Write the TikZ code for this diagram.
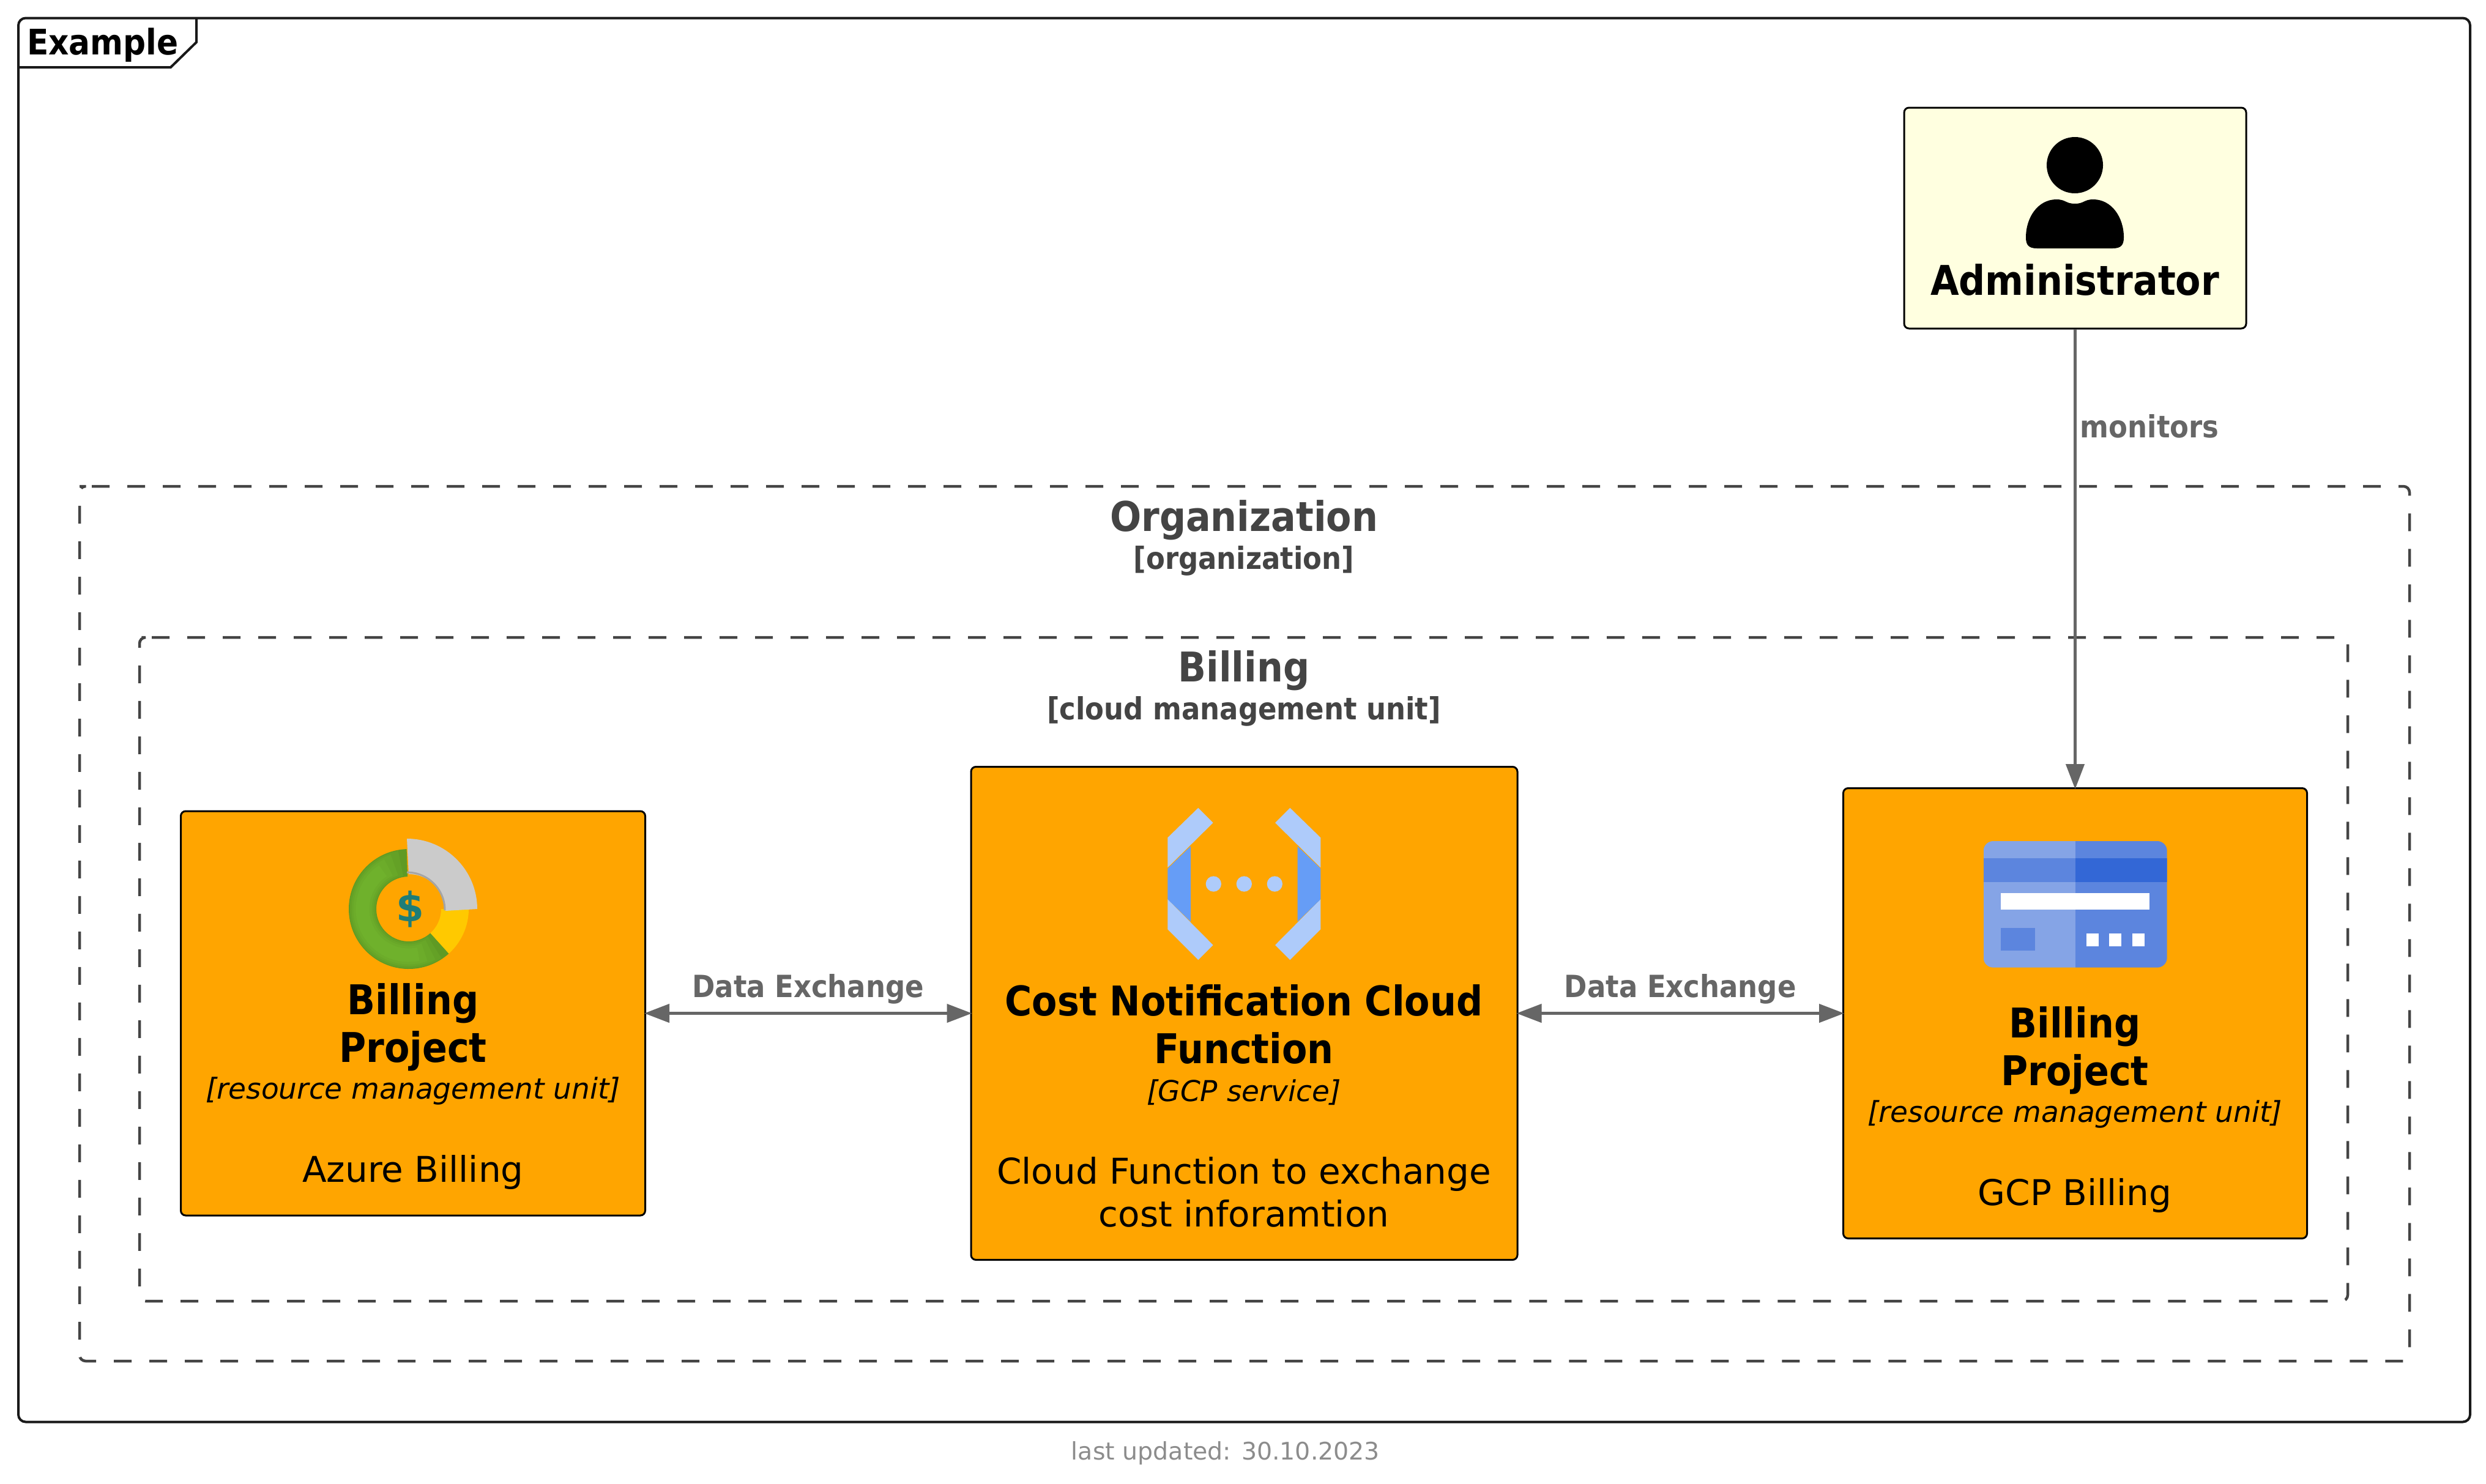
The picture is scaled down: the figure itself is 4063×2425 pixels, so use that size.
\documentclass[tikz,border=0pt]{standalone}
\usepackage{fontspec}
\setmainfont{DejaVu Sans}
\newfontfamily\condfont{DejaVu Sans Condensed}
\usetikzlibrary{arrows.meta}
\definecolor{sysfill}{HTML}{FFA500}
\definecolor{personfill}{HTML}{FFFFE0}
\definecolor{relgray}{HTML}{666666}
\definecolor{boundgray}{HTML}{444444}
\definecolor{lightblue}{HTML}{AECBFA}
\definecolor{midblue}{HTML}{669DF6}
\definecolor{cardlight}{HTML}{85A4E6}
\definecolor{cardmid}{HTML}{5C85DE}
\definecolor{carddark}{HTML}{3367D6}
\definecolor{ringdark}{HTML}{5F9A24}
\definecolor{ringlight}{HTML}{6FB12C}
\definecolor{ringyellow}{HTML}{FFC900}
\definecolor{wedgegray}{HTML}{CBCBCB}
\definecolor{wedgeedge}{HTML}{A5A5A5}
\definecolor{dollarteal}{HTML}{1E7D78}
\newcommand{\fsize}[1]{\fontsize{#1}{#1}\selectfont}
\begin{document}
\begin{tikzpicture}[
    x=1pt, y=-1pt,
       box/.style = {draw=black, line width=3pt, rounded corners=8pt, inner sep=0pt},
    sysbox/.style = {box, fill=sysfill},
  boundary/.style = {draw=boundgray, line width=4.5pt, dash pattern=on 29pt off 29pt, rounded corners=10pt},
   sysname/.style = {anchor=base, font=\condfont\bfseries\fsize{67}, inner sep=0pt},
   systech/.style = {anchor=base, font=\itshape\fsize{47}, inner sep=0pt},
   sysdesc/.style = {anchor=base, font=\fsize{58}, inner sep=0pt},
    bdname/.style = {anchor=base, text=boundgray, font=\condfont\bfseries\fsize{67}, inner sep=0pt},
    bdtech/.style = {anchor=base, text=boundgray, font=\condfont\bfseries\fsize{50}, inner sep=0pt},
    rellab/.style = {text=relgray, font=\condfont\bfseries\fsize{50}, inner sep=0pt},
       rel/.style = {draw=relgray, line width=4.5pt, shorten >=-3pt, -{Triangle[length=41pt,width=30pt]}},
    relbid/.style = {rel, shorten <=-3pt, {Triangle[length=41pt,width=30pt]}-{Triangle[length=41pt,width=30pt]}}
                        ]
\useasboundingbox (0,0) rectangle (4063,2425);
% frame
\node[draw=black!90, line width=4pt, rounded corners=12pt, minimum width=4007pt, minimum height=2295pt, inner sep=0pt] (frame) at (2033.5,1177) {};
\draw[draw=black!90, line width=4pt] (30,110) -- (279,110) -- (321,69) -- (321,30);
\node[anchor=base west, font=\condfont\bfseries\fsize{57.5}, inner sep=0pt] (example) at (44,89) {Example};
\node[anchor=base, text=black!45, font=\fsize{39.5}, inner sep=0pt] (updated) at (2003,2386) {last updated: 30.10.2023};
% boundaries
\draw[boundary] (140,795) -- (3938,795) -- (3938,2225) -- (130,2225) -- (130,795) -- cycle;
\node[bdname] (orgname) at (2033,868) {Organization};
\node[bdtech] (orgtech) at (2033,930) {[organization]};
\draw[boundary] (238,1042) -- (3837,1042) -- (3837,2127) -- (228,2127) -- (228,1042) -- cycle;
\node[bdname] (billname) at (2033,1114) {Billing};
\node[bdtech] (billtech) at (2033,1176) {[cloud management unit]};
% boxes
\node[box, fill=personfill, minimum width=559pt, minimum height=361pt] (admin) at (3391.5,356.5) {};
\node[sysbox, minimum width=759pt, minimum height=661pt] (azure) at (675,1656.5) {};
\node[sysbox, minimum width=893pt, minimum height=806pt] (cost) at (2033.5,1656.5) {};
\node[sysbox, minimum width=758pt, minimum height=736pt] (gcp) at (3391.5,1656.5) {};
% box texts
\node[sysname] (adminname) at (3391,482) {Administrator};
\node[sysname] (azurename1) at (675,1658) {Billing};
\node[sysname] (azurename2) at (675,1736) {Project};
\node[systech] (azuretech) at (675,1796) {[resource management unit]};
\node[sysdesc] (azuredesc) at (675,1932) {Azure Billing};
\node[sysname] (costname1) at (2033,1660) {Cost Notification Cloud};
\node[sysname] (costname2) at (2033,1738) {Function};
\node[systech] (costtech) at (2033,1800) {[GCP service]};
\node[sysdesc] (costdesc1) at (2033,1935) {Cloud Function to exchange};
\node[sysdesc] (costdesc2) at (2033,2005) {cost inforamtion};
\node[sysname] (gcpname1) at (3391,1696) {Billing};
\node[sysname] (gcpname2) at (3391,1774) {Project};
\node[systech] (gcptech) at (3391,1834) {[resource management unit]};
\node[sysdesc] (gcpdesc) at (3391,1970) {GCP Billing};
% connectors
\draw[relbid] (azure.east) -- node[rellab, midway, above=13pt] (lab1) {Data Exchange} (cost.west);
\draw[relbid] (cost.east) -- node[rellab, midway, above=13pt] (lab2) {Data Exchange} (gcp.west);
\draw[rel] (admin.south) -- node[rellab, pos=0.212, right=6pt] (lab3) {monitors} (gcp.north);
% person icon
\begin{scope}[shift={(3391,270)}]
  \fill[black] (0,0) circle [radius=46pt];
  \path[fill=black] (-80,118) .. controls (-80,85) and (-60,56) .. (-30,56)
     .. controls (-15,56) and (-15,63) .. (0,63) .. controls (15,63) and (15,56) .. (30,56)
     .. controls (60,56) and (80,85) .. (80,118) .. controls (80,130) and (76,136) .. (62,136)
     -- (-62,136) .. controls (-76,136) and (-80,130) .. (-80,118) -- cycle;
\end{scope}
% billing icon
\begin{scope}[shift={(668,1486)}, y=1pt]
  \fill[ringdark] (92:98) arc [start angle=92, end angle=312, radius=98pt]
     -- (312:53) arc [start angle=312, end angle=92, radius=53pt] -- cycle;
  \foreach \wd/\mixval/\angstart/\angend in {42/30/100/304, 36/55/108/298, 30/80/116/290, 22/100/124/282}
    \draw[line width=\wd pt, color=ringlight!\mixval!ringdark] (\angstart:75.5) arc [start angle=\angstart, end angle=\angend, radius=75.5pt];
  \fill[ringyellow] (312:98) arc [start angle=312, end angle=360, radius=98pt]
     -- (0:53) arc [start angle=360, end angle=312, radius=53pt] -- cycle;
  \fill[wedgegray] (-3,115) arc [start angle=90, end angle=0, radius=115pt] -- (60,-3) arc [start angle=0, end angle=90, radius=60pt] -- cycle;
  \draw[line width=3pt, wedgeedge] (-3,60) arc [start angle=90, end angle=0, radius=62pt];
  \node[text=dollarteal, font=\bfseries\fsize{66}, inner sep=0pt] (dollar) at (2,0) {\$};
\end{scope}
% function icon
\begin{scope}[shift={(1860,1280)}, scale=1/3]
  \fill[lightblue] (145,268) -- (295,122) -- (368,195) -- (145,415) -- cycle;
  \fill[lightblue] (145,570) -- (368,795) -- (295,868) -- (145,718) -- cycle;
  \fill[midblue] (145,420) -- (258,310) -- (258,680) -- (145,570) -- cycle;
  \fill[lightblue] (895,268) -- (745,122) -- (672,195) -- (895,415) -- cycle;
  \fill[lightblue] (895,570) -- (672,795) -- (745,868) -- (895,718) -- cycle;
  \fill[midblue] (895,420) -- (782,310) -- (782,680) -- (895,570) -- cycle;
  \foreach \dotx in {370,520,670}
    \fill[lightblue] (\dotx,495) circle [radius=38pt];
\end{scope}
% card icon
\begin{scope}[shift={(3220,1350)}, scale=1/3]
  \begin{scope}
    \clip[rounded corners=16pt] (65,75) rectangle (965,695);
    \fill[cardlight] (65,75) rectangle (515,695);
    \fill[cardmid] (515,75) rectangle (965,695);
    \fill[cardmid] (65,160) rectangle (515,275);
    \fill[carddark] (515,160) rectangle (965,275);
  \end{scope}
  \fill[white] (150,330) rectangle (878,412);
  \fill[cardmid] (150,500) rectangle (317,612);
  \foreach \sqx in {570,682,795}
    \fill[white] (\sqx,527) rectangle ++(60,63);
\end{scope}
\end{tikzpicture}
\end{document}
